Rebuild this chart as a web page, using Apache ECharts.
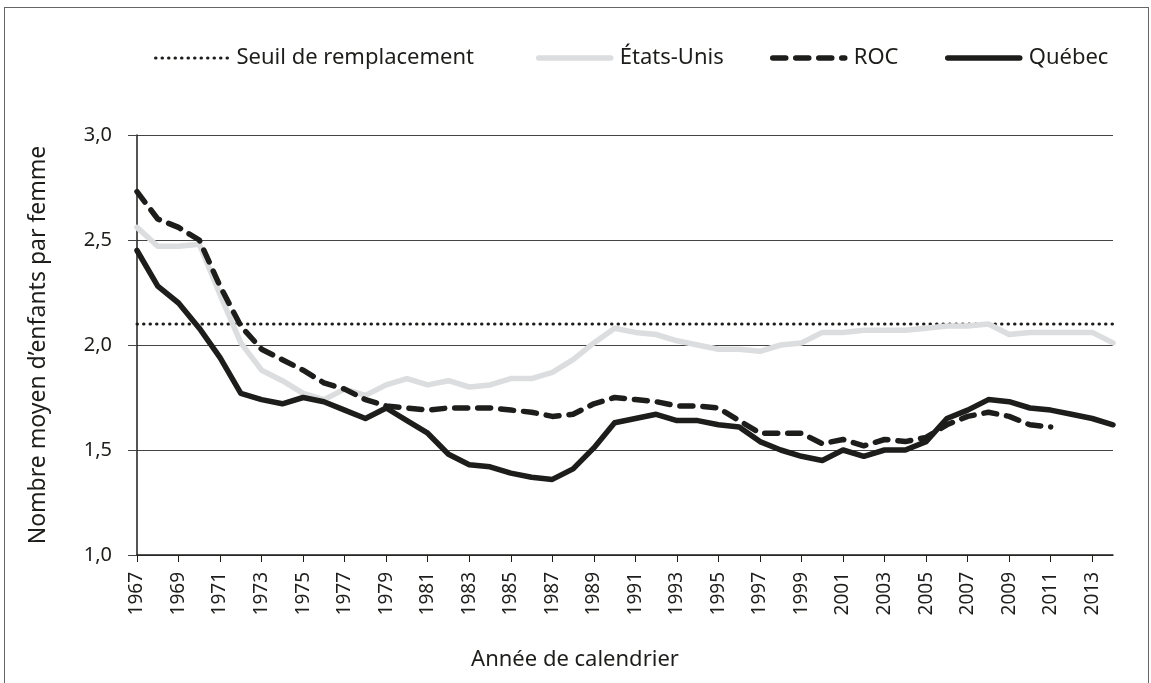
<!DOCTYPE html>
<html>

<head>
    <meta charset="utf-8">
    <title>Indice synthétique de fécondité</title>
    <script src="https://cdn.jsdelivr.net/npm/echarts@6/dist/echarts.min.js"></script>
    <style>
        body { margin: 0; background: #fff; }
        #frame { position: absolute; left: 4px; top: 7px; width: 1143px; height: 700px; border: 1px solid #666; }
        #main { position: absolute; left: 0; top: 0; width: 1151px; height: 683px; }
    </style>
</head>

<body>
    <div id="frame"></div>
    <div id="main"></div>
    <script type="text/javascript">

        // années de calendrier
        var annees = [];
        for (var a = 1967; a <= 2014; a++) {
            annees.push(String(a));
        }

        // Québec 1967-2014
        var quebec = [2.45, 2.28, 2.20, 2.08, 1.94, 1.77, 1.74, 1.72, 1.75, 1.73,
            1.69, 1.65, 1.70, 1.64, 1.58, 1.48, 1.43, 1.42, 1.39, 1.37,
            1.36, 1.41, 1.51, 1.63, 1.65, 1.67, 1.64, 1.64, 1.62, 1.61,
            1.54, 1.50, 1.47, 1.45, 1.50, 1.47, 1.50, 1.50, 1.54, 1.65,
            1.69, 1.74, 1.73, 1.70, 1.69, 1.67, 1.65, 1.62];

        // États-Unis 1967-2014
        var etatsUnis = [2.56, 2.47, 2.47, 2.48, 2.24, 2.01, 1.88, 1.83, 1.77, 1.74,
            1.79, 1.76, 1.81, 1.84, 1.81, 1.83, 1.80, 1.81, 1.84, 1.84,
            1.87, 1.93, 2.01, 2.08, 2.06, 2.05, 2.02, 2.00, 1.98, 1.98,
            1.97, 2.00, 2.01, 2.06, 2.06, 2.07, 2.07, 2.07, 2.08, 2.09,
            2.09, 2.10, 2.05, 2.06, 2.06, 2.06, 2.06, 2.01];

        // reste du Canada 1967-2011
        var roc = [2.73, 2.60, 2.56, 2.50, 2.28, 2.09, 1.98, 1.93, 1.88, 1.82,
            1.79, 1.74, 1.71, 1.70, 1.69, 1.70, 1.70, 1.70, 1.69, 1.68,
            1.66, 1.67, 1.72, 1.75, 1.74, 1.73, 1.71, 1.71, 1.70, 1.64,
            1.58, 1.58, 1.58, 1.53, 1.55, 1.52, 1.55, 1.54, 1.56, 1.62,
            1.66, 1.68, 1.66, 1.62, 1.61];

        // seuil de remplacement
        var seuil = 2.1;

        var noir = '#1d1d1b';
        var police = 'Noto Sans';

        // styles de ligne (séries et légende)
        var styleSeuil = { color: noir, width: 3, type: [0.5, 6], cap: 'round' };
        var styleUS = { color: '#dcddde', width: 5.5, join: 'round', cap: 'round' };
        var styleROC = { color: noir, width: 5.5, type: [13, 10], cap: 'round', join: 'round' };
        var styleQc = { color: noir, width: 5.5, join: 'round', cap: 'round' };

        var myChart = echarts.init(document.getElementById('main'), null, { renderer: 'canvas' });

        function legende(nom, gauche, style) {
            return {
                data: [nom],
                left: gauche,
                top: 42,
                itemWidth: 72,
                itemHeight: 14,
                itemGap: 0,
                selectedMode: false,
                itemStyle: { opacity: 0 },
                lineStyle: style,
                textStyle: { fontFamily: police, fontSize: 22, color: noir, padding: [0, 0, 0, 4] }
            };
        }

        var option = {
            animation: false,
            backgroundColor: 'transparent',
            textStyle: { fontFamily: police },
            legend: [
                legende('Seuil de remplacement', 149, styleSeuil),
                legende('États-Unis', 531, styleUS),
                legende('ROC', 765, styleROC),
                legende('Québec', 940, styleQc)
            ],
            grid: {
                left: 137,
                right: 38,
                top: 135,
                bottom: 128
            },
            xAxis: {
                type: 'category',
                boundaryGap: false,
                data: annees,
                name: 'Année de calendrier',
                nameLocation: 'middle',
                nameGap: 94,
                nameTextStyle: { fontSize: 22, color: noir, padding: [0, 100, 0, 0] },
                axisLine: { lineStyle: { color: noir, width: 1.5 } },
                axisTick: { interval: 1, length: 7, lineStyle: { color: noir } },
                axisLabel: { interval: 1, rotate: 90, margin: 17, fontSize: 19, color: noir }
            },
            yAxis: {
                type: 'value',
                min: 1,
                max: 3,
                interval: 0.5,
                name: 'Nombre moyen d’enfants par femme',
                nameLocation: 'middle',
                nameGap: 87,
                nameTextStyle: { fontSize: 23, color: noir },
                axisLine: { show: true, lineStyle: { color: noir, width: 1.5 } },
                axisTick: { show: true, length: 9, lineStyle: { color: '#444' } },
                axisLabel: {
                    margin: 25,
                    fontSize: 20,
                    color: noir,
                    formatter: function (v) { return v.toFixed(1).replace('.', ','); }
                },
                splitLine: { lineStyle: { color: '#444', width: 1 } }
            },
            series: [
                {
                    name: 'Seuil de remplacement',
                    type: 'line',
                    symbol: 'none',
                    z: 1,
                    itemStyle: { color: noir },
                    lineStyle: styleSeuil,
                    data: [[annees[0], seuil], [annees[annees.length - 1], seuil]]
                },
                {
                    name: 'États-Unis',
                    type: 'line',
                    symbol: 'none',
                    z: 2,
                    itemStyle: { color: '#dcddde' },
                    lineStyle: styleUS,
                    data: etatsUnis
                },
                {
                    name: 'ROC',
                    type: 'line',
                    symbol: 'none',
                    z: 3,
                    itemStyle: { color: noir },
                    lineStyle: styleROC,
                    data: roc
                },
                {
                    name: 'Québec',
                    type: 'line',
                    symbol: 'none',
                    z: 4,
                    itemStyle: { color: noir },
                    lineStyle: styleQc,
                    data: quebec
                }
            ]
        };

        myChart.setOption(option);
        window.onresize = myChart.resize;
    </script>
</body>

</html>
